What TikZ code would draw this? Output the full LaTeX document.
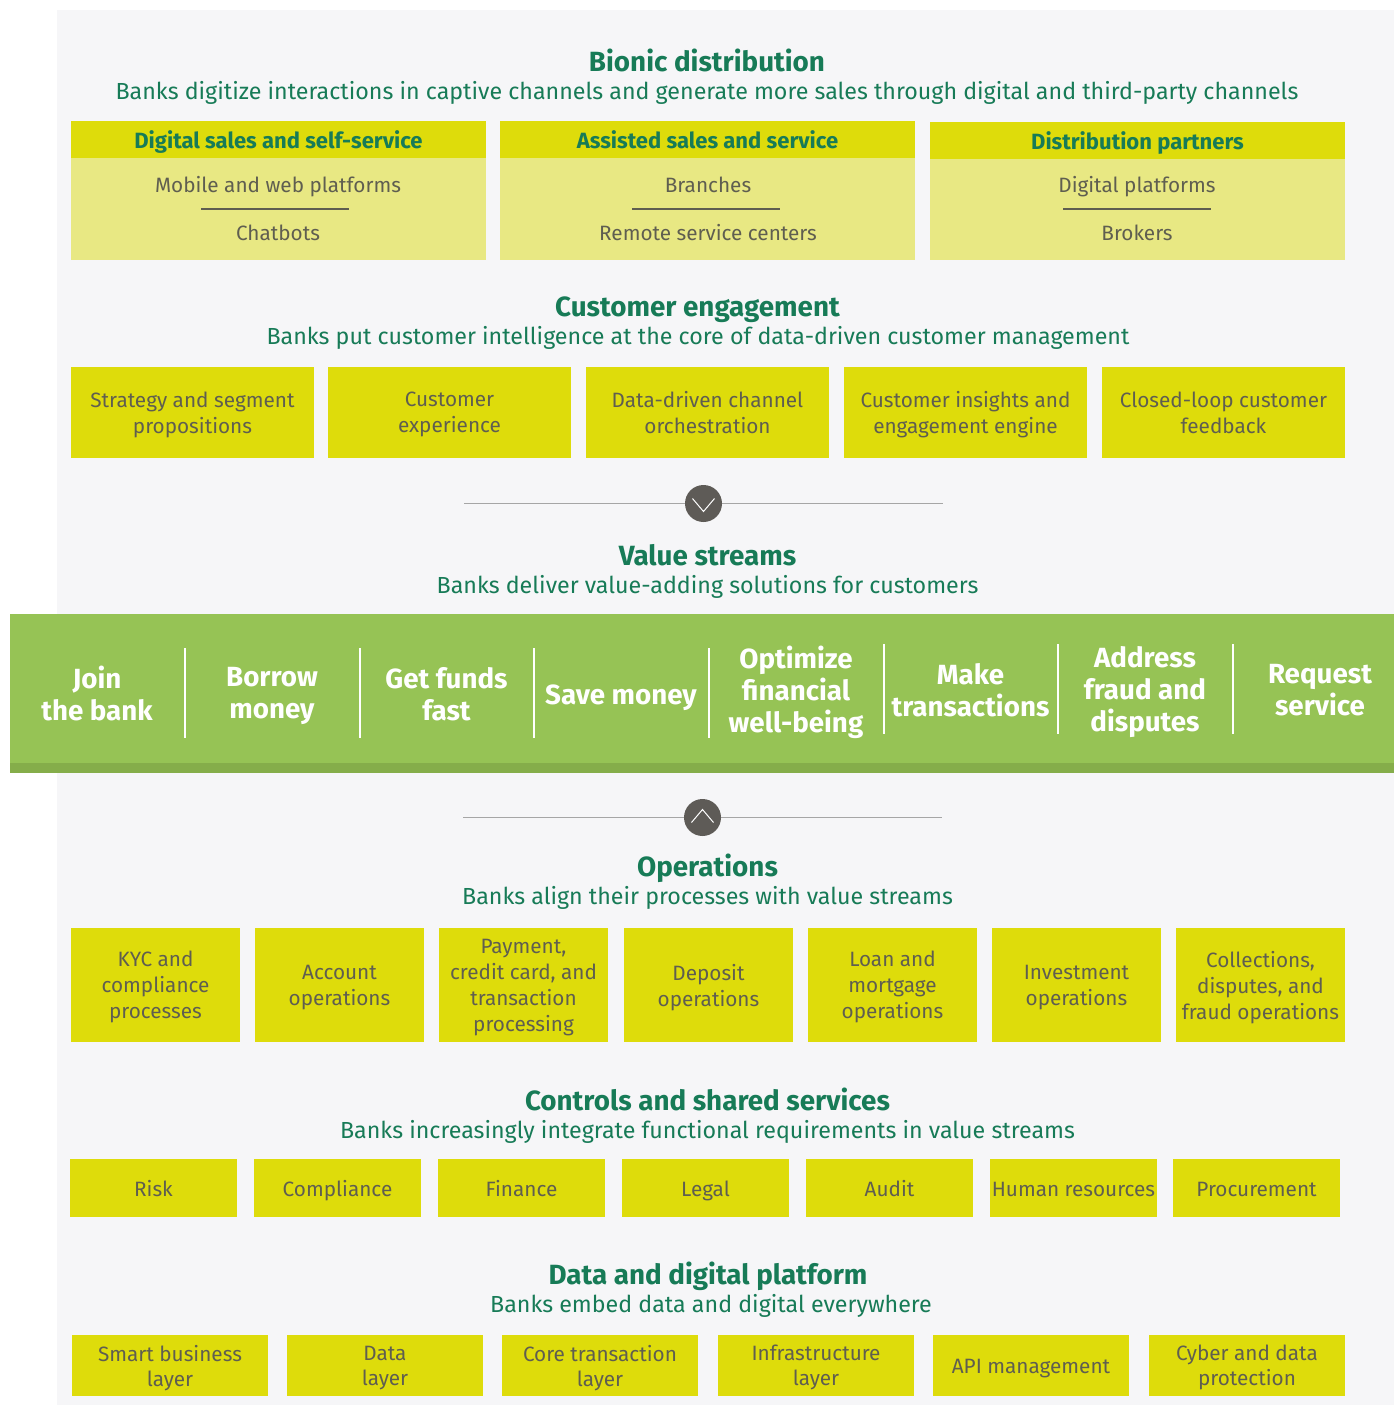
\documentclass[tikz,border=0pt]{standalone}
\usepackage{fontspec}
\setmainfont{Fira Sans}
\usepackage{xcolor}
\usetikzlibrary{calc,positioning,shapes.geometric}
\definecolor{panelgray}{HTML}{F6F6F8}
\definecolor{boxyellow}{HTML}{DEDC0B}
\definecolor{lightyellow}{HTML}{E8E883}
\definecolor{headgreen}{HTML}{177B57}
\definecolor{textgray}{HTML}{5F5E50}
\definecolor{bandgreen}{HTML}{96C355}
\definecolor{banddark}{HTML}{85AD4A}
\definecolor{rulegray}{HTML}{A6A6A6}
\definecolor{circlegray}{HTML}{5E5B57}
\tikzset{
  strutted/.style={execute at begin node=\strut,execute at end node=\strut},
  title/.style={strutted,text depth=0.5pt,text=headgreen,font=\fontsize{13.9}{15}\selectfont\bfseries,inner sep=0pt},
  subtitle/.style={strutted,text depth=1.2pt,text=headgreen,font=\fontsize{11.62}{14}\selectfont,inner sep=0pt},
  boxbase/.style={strutted,fill=boxyellow,text=textgray,align=center,inner sep=0pt,font=\fontsize{10.37}{13}\selectfont},
  headbox/.style={boxbase,text depth=-0.1pt,text=headgreen,minimum width=207.5pt,minimum height=18.5pt,font=\fontsize{11.03}{13}\selectfont\bfseries},
  bodybox/.style={boxbase,fill=lightyellow,minimum width=207.5pt,minimum height=51.5pt},
  bodytext/.style={strutted,text depth=1.9pt,text=textgray,inner sep=0pt,font=\fontsize{10.37}{13}\selectfont},
  engbox/.style={boxbase,text depth=-1.8pt,minimum width=121.5pt,minimum height=45.5pt},
  opsbox/.style={boxbase,text depth=-1.6pt,minimum width=84.5pt,minimum height=57pt},
  ctrlbox/.style={boxbase,text depth=0.9pt,minimum width=83.5pt,minimum height=29pt},
  databox/.style={boxbase,text depth=-0.75pt,minimum width=98pt,minimum height=30.5pt,font=\fontsize{10.37}{12.5}\selectfont},
  stream/.style={strutted,text depth=-0.2pt,text=white,align=center,inner sep=0pt,font=\fontsize{13.87}{16}\selectfont\bfseries},
  knob/.style={circle,fill=circlegray,minimum size=18.5pt,inner sep=0pt}
}
\begin{document}
\begin{tikzpicture}[x=0.5pt,y=-0.5pt]
\useasboundingbox (0,0) rectangle (1394,1405);
\fill[panelgray] (57,10) rectangle (1394,1405);

% Bionic distribution
\node[title] (bio) at (707,61) {Bionic distribution};
\node[subtitle] (biosub) at (707,91) {Banks digitize interactions in captive channels and generate more sales through digital and third-party channels};

\node[bodybox] (b1) at (278.5,208.5) {};
\node[bodybox] (b2) at (707.5,208.5) {};
\node[bodybox] (b3) at (1137.5,208.5) {};
\node[headbox] (h1) at (278.5,139) {Digital sales and self-service};
\node[headbox] (h2) at (707.5,139.5) {Assisted sales and service};
\node[headbox] (h3) at (1137.5,140.5) {Distribution partners};

\node[bodytext] (t1a) at (278,185) {Mobile and web platforms};
\node[bodytext] (t1b) at (278,233) {Chatbots};
\node[bodytext] (t2a) at (708,185) {Branches};
\node[bodytext] (t2b) at (708,233) {Remote service centers};
\node[bodytext] (t3a) at (1137,185) {Digital platforms};
\node[bodytext] (t3b) at (1137,233) {Brokers};

\coordinate (r1l) at (201,209);
\coordinate (r1r) at (349,209);
\coordinate (r2l) at (632,209);
\coordinate (r2r) at (780,209);
\coordinate (r3l) at (1063,209);
\coordinate (r3r) at (1211,209);
\draw[textgray,line width=0.6pt] (r1l) -- (r1r);
\draw[textgray,line width=0.6pt] (r2l) -- (r2r);
\draw[textgray,line width=0.6pt] (r3l) -- (r3r);

% Customer engagement
\node[title] (eng) at (697.5,306) {Customer engagement};
\node[subtitle] (engsub) at (698,336) {Banks put customer intelligence at the core of data-driven customer management};

\node[engbox] (e1) at (192.5,412.5) {Strategy and segment\\propositions};
\node[engbox] (e2) at (449.5,412.5) {Customer\\experience};
\node[engbox] (e3) at (707.5,412.5) {Data-driven channel\\orchestration};
\node[engbox] (e4) at (965.5,412.5) {Customer insights and\\engagement engine};
\node[engbox] (e5) at (1223.5,412.5) {Closed-loop customer\\feedback};

\coordinate (k1l) at (464,503.5);
\coordinate (k1r) at (943,503.5);
\draw[rulegray,line width=0.7pt] (k1l) -- (k1r);
\node[knob] (k1) at (703.5,503.5) {};
\coordinate (k1a) at ($(k1)+(-11,-5)$);
\coordinate (k1b) at ($(k1)+(0,8)$);
\coordinate (k1c) at ($(k1)+(11,-5)$);
\draw[white,line width=0.5pt] (k1a) -- (k1b) -- (k1c);

% Value streams
\node[title] (val) at (707.5,555) {Value streams};
\node[subtitle] (valsub) at (707.5,585) {Banks deliver value-adding solutions for customers};

\fill[bandgreen] (10,614) rectangle (1394,763);
\fill[banddark] (10,763) rectangle (1394,773);

\node[stream] (v1) at (97,693) {Join\\the bank};
\node[stream] (v2) at (272,693) {Borrow\\money};
\node[stream] (v3) at (446.5,694) {Get funds\\fast};
\node[stream] (v4) at (621,693.5) {Save money};
\node[stream] (v5) at (796,689) {Optimize\\financial\\well-being};
\node[stream] (v6) at (970.5,690) {Make\\transactions};
\node[stream] (v7) at (1145,689) {Address\\fraud and\\disputes};
\node[stream] (v8) at (1320,690) {Request\\service};

\coordinate (s1t) at (185,648);
\coordinate (s1b) at (185,738);
\coordinate (s2t) at (359.5,648);
\coordinate (s2b) at (359.5,738);
\coordinate (s3t) at (534,648);
\coordinate (s3b) at (534,738);
\coordinate (s4t) at (708.5,648);
\coordinate (s4b) at (708.5,738);
\coordinate (s5t) at (883.5,644);
\coordinate (s5b) at (883.5,734);
\coordinate (s6t) at (1058,644);
\coordinate (s6b) at (1058,734);
\coordinate (s7t) at (1232.5,644);
\coordinate (s7b) at (1232.5,734);
\draw[white,line width=1pt] (s1t) -- (s1b);
\draw[white,line width=1pt] (s2t) -- (s2b);
\draw[white,line width=1pt] (s3t) -- (s3b);
\draw[white,line width=1pt] (s4t) -- (s4b);
\draw[white,line width=1pt] (s5t) -- (s5b);
\draw[white,line width=1pt] (s6t) -- (s6b);
\draw[white,line width=1pt] (s7t) -- (s7b);

\coordinate (k2l) at (463,817.5);
\coordinate (k2r) at (942,817.5);
\draw[rulegray,line width=0.7pt] (k2l) -- (k2r);
\node[knob] (k2) at (702.5,817.5) {};
\coordinate (k2a) at ($(k2)+(-11,5)$);
\coordinate (k2b) at ($(k2)+(0,-8)$);
\coordinate (k2c) at ($(k2)+(11,5)$);
\draw[white,line width=0.5pt] (k2a) -- (k2b) -- (k2c);

% Operations
\node[title] (ops) at (707.5,866) {Operations};
\node[subtitle] (opssub) at (707.5,896) {Banks align their processes with value streams};

\node[opsbox] (o1) at (155.5,985) {KYC and\\compliance\\processes};
\node[opsbox] (o2) at (339.5,985) {Account\\operations};
\node[opsbox] (o3) at (523.5,985) {Payment,\\credit card, and\\transaction\\processing};
\node[opsbox] (o4) at (708.5,985) {Deposit\\operations};
\node[opsbox] (o5) at (892.5,985) {Loan and\\mortgage\\operations};
\node[opsbox] (o6) at (1076.5,985) {Investment\\operations};
\node[opsbox] (o7) at (1260.5,985) {Collections,\\disputes, and\\fraud operations};

% Controls and shared services
\node[title] (ctl) at (707.5,1100) {Controls and shared services};
\node[subtitle] (ctlsub) at (707.5,1130) {Banks increasingly integrate functional requirements in value streams};

\node[ctrlbox] (c1) at (153.5,1188) {Risk};
\node[ctrlbox] (c2) at (337.5,1188) {Compliance};
\node[ctrlbox] (c3) at (521.5,1188) {Finance};
\node[ctrlbox] (c4) at (705.5,1188) {Legal};
\node[ctrlbox] (c5) at (889.5,1188) {Audit};
\node[ctrlbox] (c6) at (1073.5,1188) {Human resources};
\node[ctrlbox] (c7) at (1256.5,1188) {Procurement};

% Data and digital platform
\node[title] (dat) at (708,1274) {Data and digital platform};
\node[subtitle] (datsub) at (711,1304) {Banks embed data and digital everywhere};

\node[databox] (d1) at (170,1365.5) {Smart business\\layer};
\node[databox] (d2) at (385,1365.5) {Data\\layer};
\node[databox] (d3) at (600,1365.5) {Core transaction\\layer};
\node[databox] (d4) at (816,1365.5) {Infrastructure\\layer};
\node[databox,text depth=0.75pt] (d5) at (1031,1365.5) {API management};
\node[databox] (d6) at (1247,1365.5) {Cyber and data\\protection};
\end{tikzpicture}
\end{document}
